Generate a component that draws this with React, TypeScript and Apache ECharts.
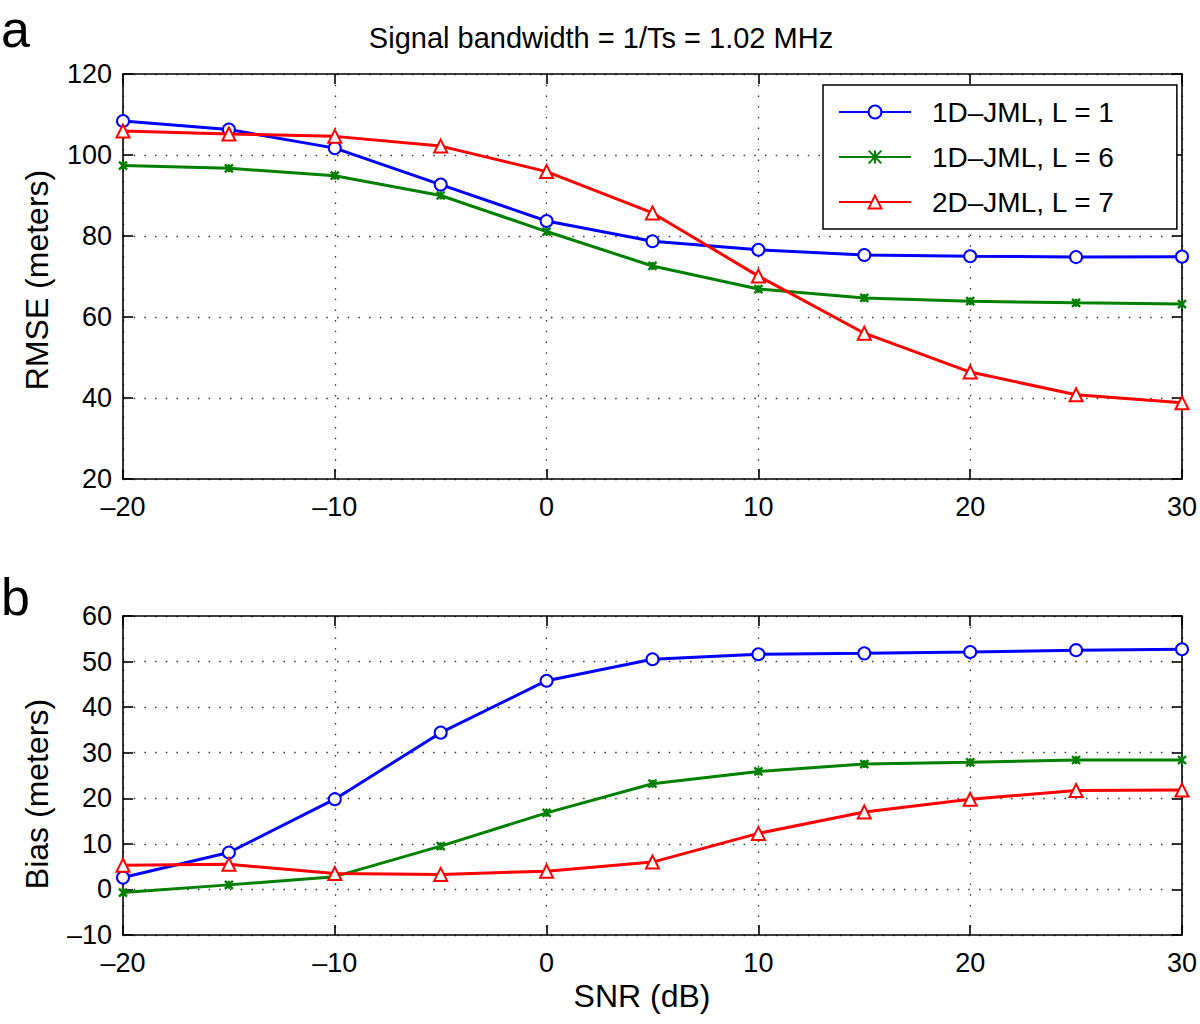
import React, { useEffect, useRef } from "react";
import * as echarts from "echarts";

const snr = [-20, -15, -10, -5, 0, 5, 10, 15, 20, 25, 30];
const seriesNames = ["1D\u2013JML, L = 1", "1D\u2013JML, L = 6", "2D\u2013JML, L = 7"];
const colors = ["#0000ff", "#008000", "#ff0000"];

const rmse1D1 = [108.4, 106.3, 101.7, 92.7, 83.7, 78.7, 76.6, 75.3, 75.0, 74.8, 74.9];
const rmse1D6 = [97.4, 96.7, 94.9, 90.0, 81.1, 72.6, 66.9, 64.7, 63.9, 63.5, 63.2];
const rmse2D7 = [105.9, 105.2, 104.6, 102.2, 95.9, 85.7, 70.1, 56.0, 46.4, 40.8, 38.8];

const bias1D1 = [2.6, 8.1, 19.8, 34.4, 45.8, 50.5, 51.6, 51.8, 52.1, 52.5, 52.7];
const bias1D6 = [-0.7, 1.0, 2.8, 9.5, 16.8, 23.2, 25.9, 27.5, 27.9, 28.4, 28.4];
const bias2D7 = [5.3, 5.5, 3.5, 3.3, 4.0, 6.0, 12.3, 17.0, 19.8, 21.7, 21.8];

const tickFmt = (v: number) => String(v).replace("-", "\u2013");

const FONT = "'Liberation Sans', Arial, Helvetica, sans-serif";

export default function App() {
  const ref = useRef<HTMLDivElement>(null);
  useEffect(() => {
    if (!ref.current) return;
    const chart = echarts.init(ref.current, undefined, { renderer: "svg" });
    const grids = [
      { left: 123, top: 74, width: 1063, height: 405 },
      { left: 123, top: 616, width: 1063, height: 319 },
    ];
    const axisLine = { show: true, onZero: false, lineStyle: { color: "#000", width: 1.6 } };
    const tick = { show: true, inside: true, length: 10, lineStyle: { color: "#000", width: 1.6 } };
    const gridLine = { show: true, lineStyle: { color: "#333", width: 1.3, type: [1.5, 9.2] as any } };
    const label = { fontFamily: FONT, fontSize: 27, color: "#000" };

    const xAxes: any[] = [];
    const yAxes: any[] = [];
    [0, 1].forEach((g) => {
      xAxes.push({
        type: "value", gridIndex: g, min: -20, max: 30, interval: 10, position: "bottom",
        axisLine, axisTick: tick, splitLine: gridLine,
        axisLabel: { ...label, margin: 14, formatter: tickFmt },
      });
      xAxes.push({
        type: "value", gridIndex: g, min: -20, max: 30, interval: 10, position: "top",
        axisLine, axisTick: tick, splitLine: { show: false }, axisLabel: { show: false },
      });
    });
    const yRanges = [
      { min: 20, max: 120, interval: 20 },
      { min: -10, max: 60, interval: 10 },
    ];
    [0, 1].forEach((g) => {
      yAxes.push({
        type: "value", gridIndex: g, ...yRanges[g], position: "left",
        axisLine, axisTick: tick, splitLine: gridLine,
        axisLabel: { ...label, margin: 11, formatter: tickFmt },
      });
      yAxes.push({
        type: "value", gridIndex: g, ...yRanges[g], position: "right",
        axisLine, axisTick: tick, splitLine: { show: false }, axisLabel: { show: false },
      });
    });

    const symbols = ["emptyCircle", "path://M0,0L10,10M10,0L0,10M5,0L5,10", "emptyTriangle"];
    const sizes = [12, 8, 13];
    const mk = (name: string, i: number, vals: number[], g: number) => ({
      type: "line",
      name,
      xAxisIndex: g * 2,
      yAxisIndex: g * 2,
      data: snr.map((x, k) => [x, vals[k]]),
      symbol: symbols[i],
      symbolSize: sizes[i],
      showAllSymbol: true,
      lineStyle: { color: colors[i], width: 3 },
      itemStyle: i === 1
        ? { color: colors[i], borderColor: colors[i], borderWidth: 2.4 }
        : { color: colors[i], borderColor: colors[i], borderWidth: 2.8 },
      z: 3 + i,
    });

    const series = [
      mk(seriesNames[0], 0, rmse1D1, 0),
      mk(seriesNames[1], 1, rmse1D6, 0),
      mk(seriesNames[2], 2, rmse2D7, 0),
      mk(seriesNames[0], 0, bias1D1, 1),
      mk(seriesNames[1], 1, bias1D6, 1),
      mk(seriesNames[2], 2, bias2D7, 1),
    ];

    chart.setOption({
      animation: false,
      backgroundColor: "#fff",
      grid: grids,
      xAxis: xAxes,
      yAxis: yAxes,
      series,
      legend: {
        data: seriesNames,
        orient: "vertical",
        left: 823,
        top: 85,
        padding: [12, 62, 12, 15],
        itemGap: 15,
        itemWidth: 72,
        itemHeight: 16,
        backgroundColor: "#fff",
        borderColor: "#000",
        borderWidth: 1.5,
        borderRadius: 0,
        selectedMode: false,
        textStyle: { fontFamily: FONT, fontSize: 28, color: "#000", lineHeight: 30, padding: [0, 0, 0, 16] },
      },
      graphic: [
        {
          type: "text", x: 601, y: 38,
          style: { text: "Signal bandwidth = 1/Ts = 1.02 MHz", fontFamily: FONT, fontSize: 29, fill: "#000", align: "center", verticalAlign: "middle" },
        },
        {
          type: "text", x: 1, y: 29,
          style: { text: "a", fontFamily: FONT, fontSize: 52, lineHeight: 52, fill: "#000", align: "left", verticalAlign: "middle" },
        },
        {
          type: "text", x: 1, y: 597,
          style: { text: "b", fontFamily: FONT, fontSize: 52, lineHeight: 52, fill: "#000", align: "left", verticalAlign: "middle" },
        },
        {
          type: "text", x: 37, y: 280, rotation: Math.PI / 2,
          style: { text: "RMSE (meters)", fontFamily: FONT, fontSize: 32, fill: "#000", align: "center", verticalAlign: "middle" },
        },
        {
          type: "text", x: 37, y: 794, rotation: Math.PI / 2,
          style: { text: "Bias (meters)", fontFamily: FONT, fontSize: 32, fill: "#000", align: "center", verticalAlign: "middle" },
        },
        {
          type: "text", x: 642, y: 996,
          style: { text: "SNR (dB)", fontFamily: FONT, fontSize: 32, fill: "#000", align: "center", verticalAlign: "middle" },
        },
      ],
    });
    return () => chart.dispose();
  }, []);
  return (
    <div
      ref={ref}
      style={{ position: "absolute", left: 0, top: 0, width: 1200, height: 1024 }}
    />
  );
}
